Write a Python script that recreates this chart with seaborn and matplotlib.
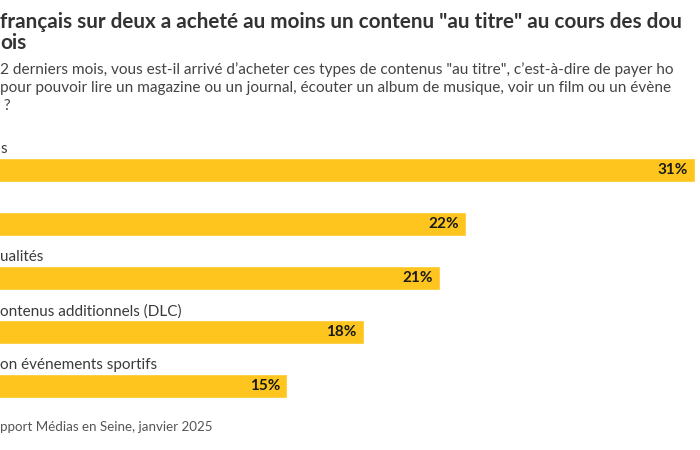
import seaborn as sns
import matplotlib.pyplot as plt
import pandas as pd

# Data (the reference is a crop: texts are cut at the edges)
categories = ["s", "", "ualités", "ontenus additionnels (DLC)", "on événements sportifs"]
values = [31, 22, 21, 18, 15]
value_labels = ["31%", "22%", "21%", "18%", "15%"]

title_lines = ["français sur deux a acheté au moins un contenu \"au titre\" au cours des dou",
               "ois"]
subtitle_lines = ["2 derniers mois, vous est-il arrivé d\u2019acheter ces types de contenus \"au titre\", c\u2019est-à-dire de payer ho",
                  "pour pouvoir lire un magazine ou un journal, écouter un album de musique, voir un film ou un évène",
                  " ?"]
source = "pport Médias en Seine, janvier 2025"

sns.set_style("white")
plt.rcParams['font.family'] = ['Lato', 'DejaVu Sans']

df = pd.DataFrame({"cat": categories, "val": values})
df["pos"] = range(len(df))

fig = plt.figure(figsize=(7, 4.5), dpi=100)
ax = fig.add_axes([0, 1 - 413 / 450, 1, 270 / 450])

sns.barplot(data=df, x="val", y="pos", orient="h", color="#FDC51D",
            width=0.46, saturation=1, ax=ax)

# origin of the bars lies left of the visible crop
ax.set_xlim(3.745, 3.745 + 700 / 25.5)
ax.set_ylim(4.5, -0.5)
ax.axis("off")

for i, (v, lab) in enumerate(zip(values, value_labels)):
    ax.annotate(lab, xy=(v, i), xytext=(-5, 0), textcoords="offset points",
                ha="right", va="center", fontsize=11, fontweight="bold",
                color="#1a1a1a")

for i, c in enumerate(categories):
    ax.text(0.0, i - 0.38, c, transform=ax.get_yaxis_transform(),
            ha="left", va="center", fontsize=11, color="#3a3a3a", clip_on=False)

fig.text(0.0, 1 - 22 / 450, title_lines[0], fontsize=14.9, fontweight="bold",
         color="#333333", ha="left", va="center")
fig.text(0.0, 1 - 43 / 450, title_lines[1], fontsize=14.9, fontweight="bold",
         color="#333333", ha="left", va="center")
for k, line in enumerate(subtitle_lines):
    fig.text(0.0, 1 - (70 + 18 * k) / 450, line, fontsize=11.1,
             color="#444444", ha="left", va="center")

fig.text(0.0, 1 - 427 / 450, source, fontsize=9.6, color="#555555",
         ha="left", va="center")

fig.savefig("out.png", dpi=100)
